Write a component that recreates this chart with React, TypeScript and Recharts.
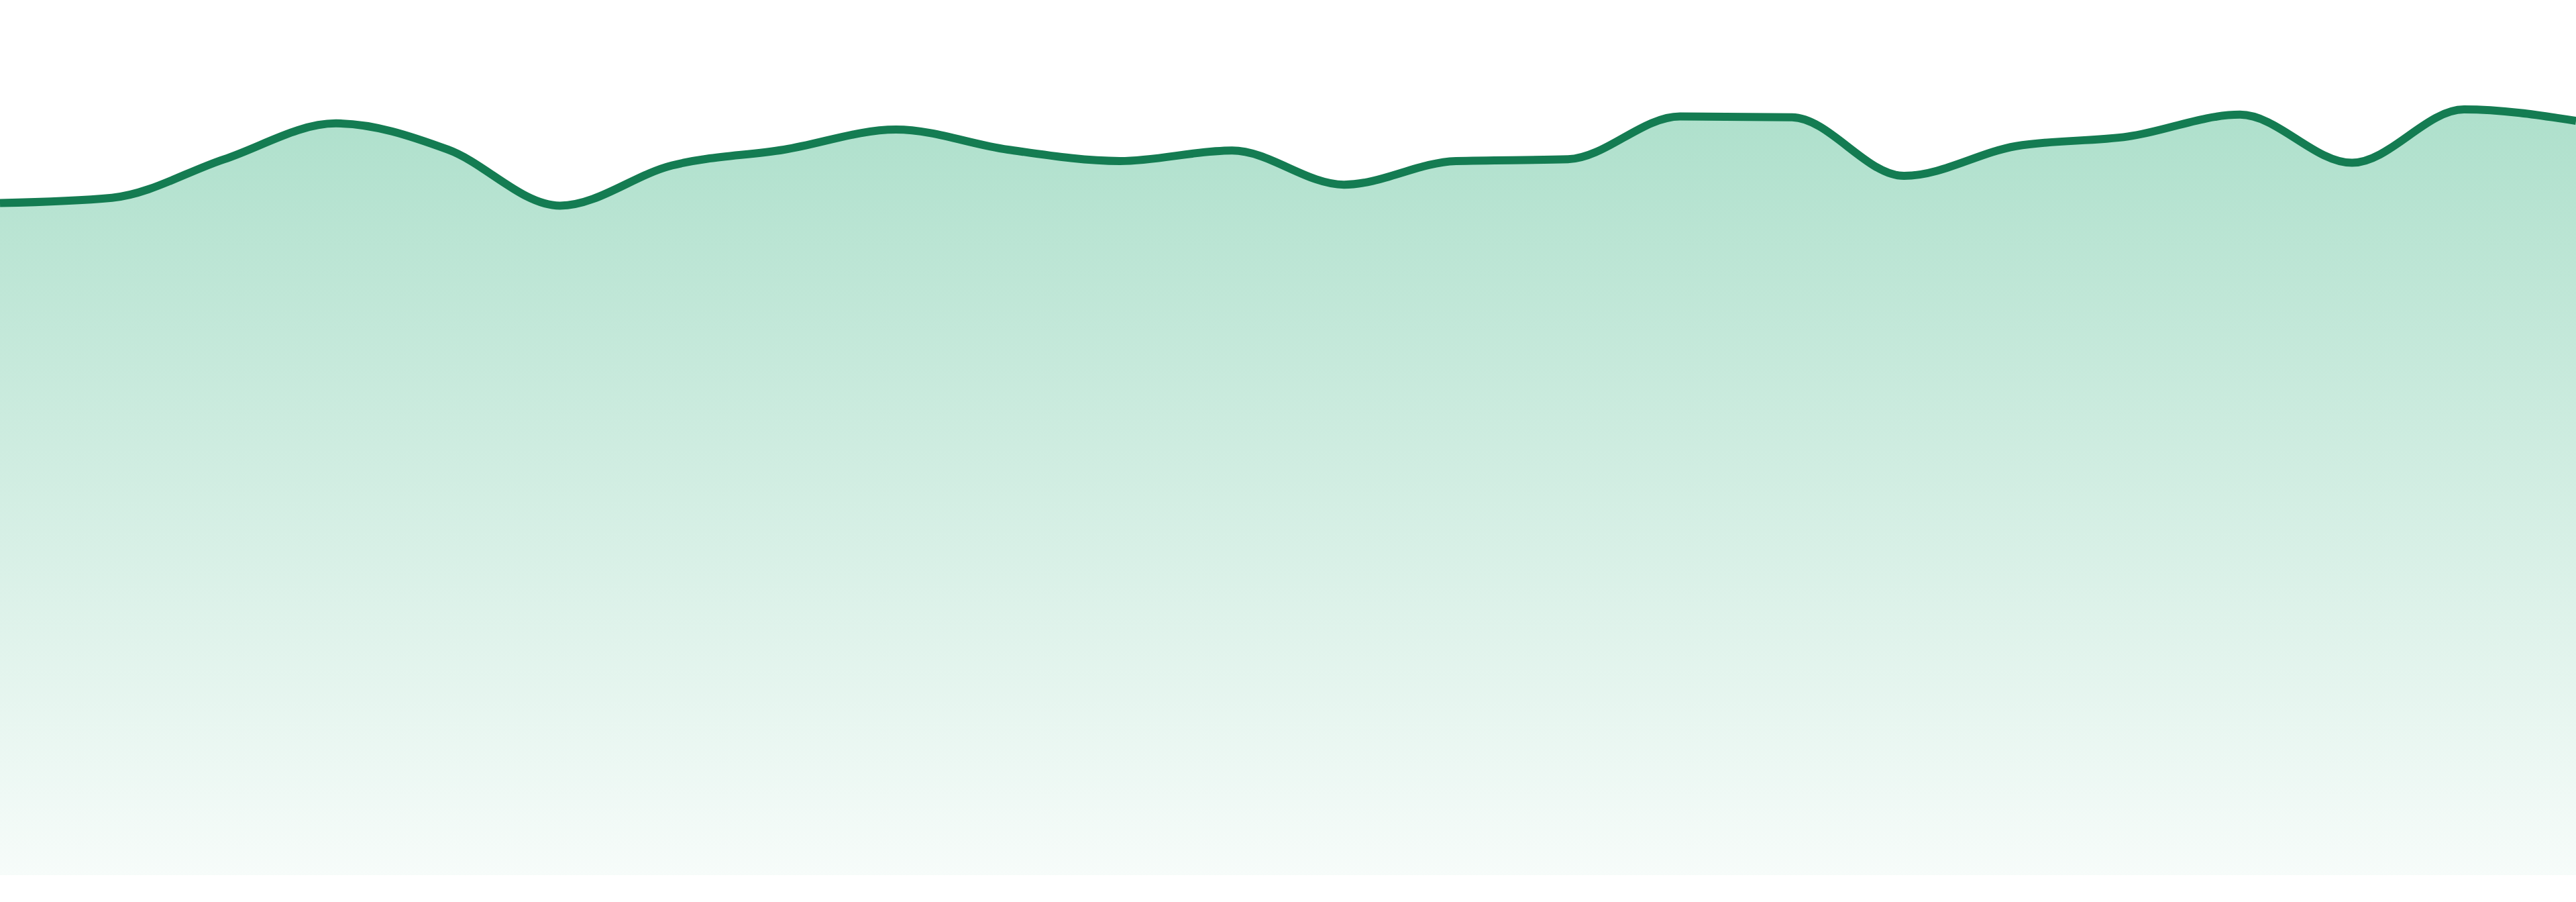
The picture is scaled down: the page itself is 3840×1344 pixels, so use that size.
import { AreaChart, Area, XAxis, YAxis } from "recharts";

const days = [
  "D1", "D2", "D3", "D4", "D5", "D6", "D7", "D8", "D9", "D10", "D11", "D12",
  "D13", "D14", "D15", "D16", "D17", "D18", "D19", "D20", "D21", "D22", "D23", "D24",
];

const values = [
  76.8, 77.4, 81.8, 85.9, 82.9, 76.5, 81.1, 82.9, 85.2, 82.9, 81.6, 82.8,
  78.9, 81.6, 81.8, 86.7, 86.6, 79.9, 83.3, 84.4, 86.9, 81.4, 87.5, 86.2,
];

const data = days.map((day, i) => ({ day, value: values[i] }));

export default function App() {
  return (
    <div style={{ position: "absolute", left: 0, top: 0, width: 3840, height: 1344, background: "#fff" }}>
      <AreaChart width={3840} height={1344} data={data} margin={{ top: 0, right: 0, bottom: 40, left: 0 }}>
        <defs>
          <linearGradient id="fillGreen" x1="0" y1="0" x2="0" y2="1">
            <stop offset="0%" stopColor="#2aad78" stopOpacity={0.38} />
            <stop offset="100%" stopColor="#2aad78" stopOpacity={0.04} />
          </linearGradient>
        </defs>
        <XAxis dataKey="day" hide padding={{ left: 0, right: 0 }} />
        <YAxis hide domain={[0, 100]} width={0} />
        <Area
          type="monotone"
          dataKey="value"
          stroke="#147c52"
          strokeWidth={12}
          fill="url(#fillGreen)"
          fillOpacity={1}
          dot={false}
          activeDot={false}
          isAnimationActive={false}
        />
      </AreaChart>
    </div>
  );
}
